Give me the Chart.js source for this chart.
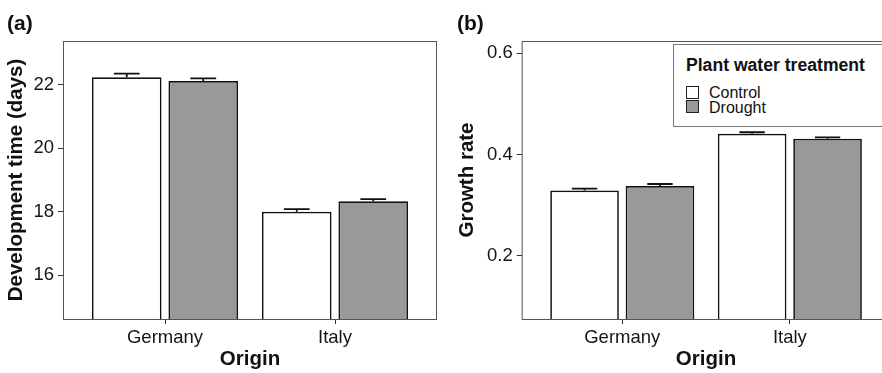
<!DOCTYPE html>
<html>
<head>
<meta charset="utf-8">
<script src="https://cdn.jsdelivr.net/npm/chart.js@4.4.1/dist/chart.umd.min.js"></script>
<style>
  body { margin: 0; background: #fff; font-family: "Liberation Sans", Arial, sans-serif; }
  #wrap { position: relative; width: 882px; height: 373px; overflow: hidden; }
  .panel { position: absolute; top: 0; height: 373px; overflow: hidden; }
  .tag { position: absolute; font-weight: bold; font-size: 21px; line-height: 21px; color: #111; }
  #legend { position: absolute; left: 232px; top: 44px; width: 260px; height: 81px;
            border: 1px solid #777; background: #fff; color: #111; }
  #legend .ttl { position: absolute; left: 12px; top: 12px; font-weight: bold; font-size: 17.6px; line-height: 17px; }
  #legend .key { position: absolute; left: 12px; width: 11px; height: 11px; border: 1.5px solid #222; }
  #legend .lbl { position: absolute; left: 35px; font-size: 16px; line-height: 16px; }
</style>
</head>
<body>
<div id="wrap">
  <div class="panel" style="left:0;width:441px;"><canvas id="devtime"></canvas></div>
  <div class="panel" style="left:441px;width:441px;">
    <canvas id="growth"></canvas>
    <div id="legend">
      <div class="ttl">Plant water treatment</div>
      <div class="key" style="top:41px;background:#fff;"></div>
      <div class="lbl" style="top:40px;">Control</div>
      <div class="key" style="top:55px;background:#999;"></div>
      <div class="lbl" style="top:55px;">Drought</div>
    </div>
  </div>
  <div class="tag" style="left:7px;top:12px;">(a)</div>
  <div class="tag" style="left:457px;top:12px;">(b)</div>
</div>
<script>
// values (means and standard errors)
var origins = ['Germany', 'Italy'];
var treatments = ['Control', 'Drought'];

var devControl = [22.24, 18.00];
var devDrought = [22.12, 18.33];
var devControlSe = [0.11, 0.08];
var devDroughtSe = [0.08, 0.07];
var devTicks = [16, 18, 20, 22];

var growthControl = [0.329, 0.441];
var growthDrought = [0.338, 0.431];
var growthControlSe = [0.004, 0.003];
var growthDroughtSe = [0.004, 0.003];
var growthTicks = [0.2, 0.4, 0.6];

var fontFam = '"Liberation Sans", Arial, sans-serif';

// upper error bars only, like the original
var errorBars = {
  id: 'errorBars',
  afterDatasetsDraw: function(chart) {
    var ctx = chart.ctx;
    var yScale = chart.scales.y;
    ctx.save();
    ctx.strokeStyle = '#111';
    ctx.lineWidth = 1.8;
    chart.data.datasets.forEach(function(ds, i) {
      chart.getDatasetMeta(i).data.forEach(function(bar, j) {
        var top = yScale.getPixelForValue(ds.data[j].y + ds.se[j]);
        var half = bar.width * 0.185;
        ctx.beginPath();
        ctx.moveTo(bar.x, bar.y);
        ctx.lineTo(bar.x, top);
        ctx.moveTo(bar.x - half, top);
        ctx.lineTo(bar.x + half, top);
        ctx.stroke();
      });
    });
    ctx.restore();
  }
};

// ggplot style panel border
var panelBorder = {
  id: 'panelBorder',
  afterDraw: function(chart) {
    var a = chart.chartArea;
    var ctx = chart.ctx;
    ctx.save();
    ctx.strokeStyle = '#555';
    ctx.lineWidth = 1;
    ctx.strokeRect(a.left + 0.5, a.top + 0.5, a.right - a.left - 1, a.bottom - a.top);
    ctx.restore();
  }
};

function makePanel(id, w, opt) {
  var canvas = document.getElementById(id);
  canvas.style.width = w + 'px';
  canvas.style.height = '373px';
  canvas.width = w;
  canvas.height = 373;
  function series(vals) {
    return vals.map(function(v, i) { return {x: i + 1, y: v}; });
  }
  return new Chart(canvas, {
    type: 'bar',
    plugins: [errorBars, panelBorder],
    data: {
      datasets: [
        {
          label: treatments[0], data: series(opt.control), se: opt.controlSe,
          backgroundColor: '#ffffff', borderColor: '#111', borderWidth: 1.7, clip: 0
        },
        {
          label: treatments[1], data: series(opt.drought), se: opt.droughtSe,
          backgroundColor: '#999999', borderColor: '#111', borderWidth: 1.7, clip: 0
        }
      ]
    },
    options: {
      responsive: false,
      animation: false,
      events: [],
      categoryPercentage: 0.9,
      barPercentage: 0.91,
      layout: { padding: { top: 41, right: opt.padRight, left: 0, bottom: 0 } },
      plugins: { legend: { display: false }, tooltip: { enabled: false } },
      scales: {
        x: {
          type: 'linear', min: 0.4, max: 2.6, offset: false,
          afterBuildTicks: function(s) { s.ticks = origins.map(function(o, i) { return {value: i + 1}; }); },
          afterFit: function(s) { s.height = 54; },
          grid: { offset: false, drawOnChartArea: false, drawTicks: true, tickLength: 5, tickColor: '#333' },
          border: { display: false },
          ticks: {
            padding: 3, color: '#151515', font: { family: fontFam, size: 18.5 },
            callback: function(v) { return origins[v - 1]; }
          },
          title: {
            display: true, text: 'Origin', color: '#111',
            font: { family: fontFam, size: 20.5, weight: 'bold' }, padding: { top: 0, bottom: 1 }
          }
        },
        y: {
          min: opt.min, max: opt.max,
          afterBuildTicks: function(s) { s.ticks = opt.ticks.map(function(v) { return {value: v}; }); },
          afterFit: function(s) { s.width = opt.axisWidth; },
          grid: { drawOnChartArea: false, drawTicks: true, tickLength: 5, tickColor: '#333' },
          border: { display: false },
          ticks: {
            padding: 4, color: '#151515', font: { family: fontFam, size: 18.5 },
            callback: opt.fmt
          },
          title: {
            display: true, text: opt.title, color: '#111',
            font: { family: fontFam, size: 20.5, weight: 'bold' }, padding: { top: opt.titlePad, bottom: 0 }
          }
        }
      }
    }
  });
}

makePanel('devtime', 441, {
  control: devControl, drought: devDrought,
  controlSe: devControlSe, droughtSe: devDroughtSe,
  ticks: devTicks, min: 14.62, max: 23.38,
  fmt: function(v) { return String(v); },
  title: 'Development time (days)', axisWidth: 63, titlePad: 3.7, padRight: 4
});

makePanel('growth', 452, {
  control: growthControl, drought: growthDrought,
  controlSe: growthControlSe, droughtSe: growthDroughtSe,
  ticks: growthTicks, min: 0.0757, max: 0.624,
  fmt: function(v) { return v.toFixed(1); },
  title: 'Growth rate', axisWidth: 80.7, titlePad: 14.2, padRight: 2.6
});
</script>
</body>
</html>
